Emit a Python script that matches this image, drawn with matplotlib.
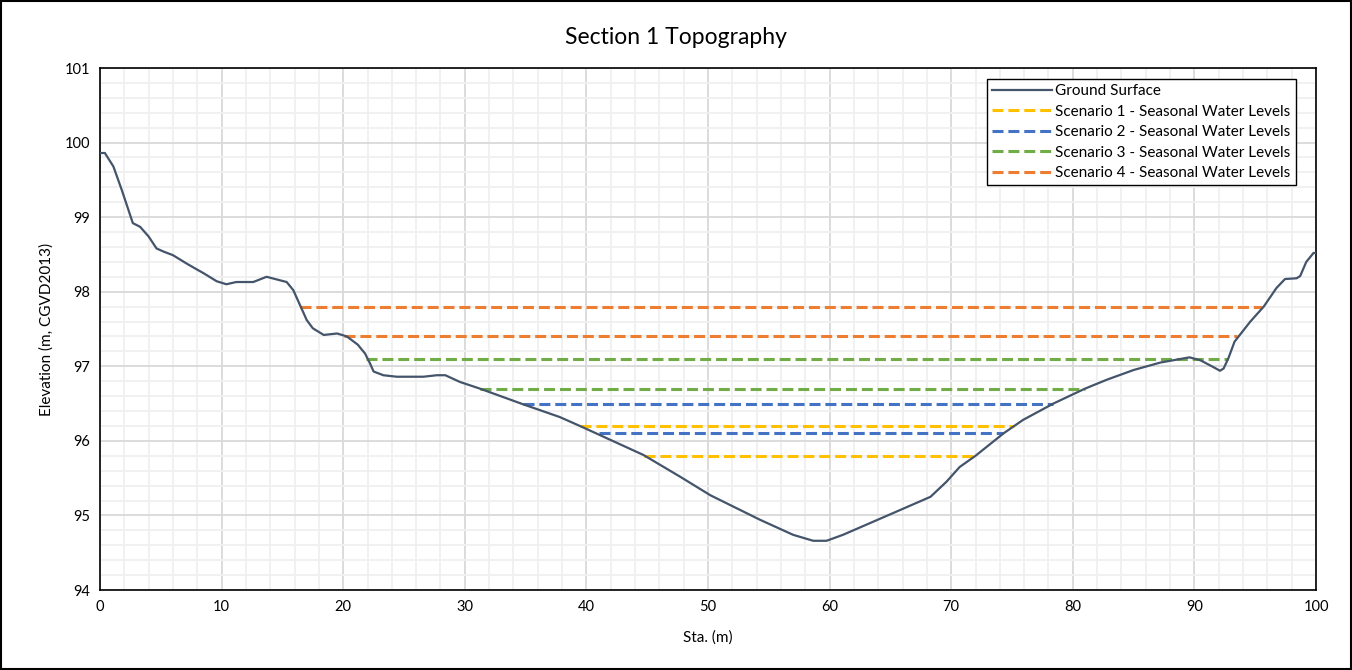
#!/usr/bin/env python3
"""Section 1 topography with seasonal water levels for four scenarios."""

import matplotlib
matplotlib.use("Agg")
import matplotlib.pyplot as plt
from matplotlib.patches import Rectangle
from matplotlib.ticker import MultipleLocator

# ground surface profile (station m, elevation m)
sta = [0, 0.4, 1.1, 1.8, 2.7, 3.3, 4.0, 4.65, 5.2, 6.0, 7.1, 7.95, 8.5,
       9.6, 10.4, 11.2, 12.6, 13.7, 15.35, 15.9, 16.45, 17.0, 17.5, 18.4,
       19.5, 20.3, 21.2, 21.8, 22.2, 22.5, 23.3, 24.4, 26.6, 27.7, 28.4,
       29.6, 31.25, 34.8, 37.8, 39.6, 44.7, 47.7, 50.2, 54.3, 57.0, 58.65,
       59.75, 61.1, 65.2, 68.3, 69.6, 70.7, 72.0, 74.3, 75.9, 78.4, 81.0,
       82.8, 85.0, 87.2, 89.6, 90.5, 91.55, 92.1, 92.4, 92.8, 93.3, 94.6,
       95.7, 96.75, 97.45, 98.4, 98.7, 99.2, 99.8, 100]
elev = [99.86, 99.86, 99.68, 99.36, 98.92, 98.87, 98.74, 98.58, 98.54,
        98.49, 98.38, 98.30, 98.25, 98.14, 98.10, 98.13, 98.13, 98.20,
        98.13, 98.02, 97.82, 97.62, 97.51, 97.42, 97.44, 97.40, 97.29,
        97.17, 97.04, 96.93, 96.88, 96.86, 96.86, 96.88, 96.88, 96.79,
        96.70, 96.49, 96.32, 96.19, 95.81, 95.52, 95.27, 94.94, 94.74,
        94.66, 94.66, 94.74, 95.03, 95.25, 95.45, 95.65, 95.80, 96.10,
        96.28, 96.50, 96.70, 96.82, 96.95, 97.05, 97.12, 97.08, 96.99,
        96.94, 96.97, 97.11, 97.33, 97.60, 97.80, 98.05, 98.17, 98.18,
        98.21, 98.40, 98.52, 98.52]

# seasonal water levels: two per scenario (level, start station, end station)
scenarios = ["Scenario 1 - Seasonal Water Levels",
             "Scenario 2 - Seasonal Water Levels",
             "Scenario 3 - Seasonal Water Levels",
             "Scenario 4 - Seasonal Water Levels"]
wl_level = [[96.2, 95.8], [96.5, 96.1], [97.1, 96.7], [97.8, 97.4]]
wl_start = [[39.5, 44.7], [34.8, 41.0], [21.9, 31.25], [16.45, 20.1]]
wl_end = [[75.2, 72.0], [78.4, 74.3], [92.8, 81.0], [95.6, 93.5]]
colors = ["#FFC000", "#4472C4", "#70AD47", "#ED7D31"]

plt.rcParams["font.family"] = ["Lato", "DejaVu Sans"]

fig = plt.figure(figsize=(13.52, 6.70), dpi=100)
ax = fig.add_axes([100 / 1352, 80 / 670, 1216 / 1352, 522 / 670])

ax.plot(sta, elev, color="#44546A", lw=1.6, label="Ground Surface", zorder=4)
for name, lv, x0, x1, c in zip(scenarios, wl_level, wl_start, wl_end, colors):
    for i in range(len(lv)):
        ax.plot([x0[i], x1[i]], [lv[i], lv[i]], color=c, lw=2.2,
                dashes=(3.6, 1.6), label=name if i == 0 else None, zorder=3)

ax.set_xlim(0, 100)
ax.set_ylim(94, 101)
ax.xaxis.set_major_locator(MultipleLocator(10))
ax.xaxis.set_minor_locator(MultipleLocator(2))
ax.yaxis.set_major_locator(MultipleLocator(1))
ax.yaxis.set_minor_locator(MultipleLocator(0.2))
ax.grid(which="major", color="#D9D9D9", lw=1.3)
ax.grid(which="minor", color="#F0F0F0", lw=1.3)
ax.set_axisbelow(True)
ax.tick_params(which="both", length=0, labelsize=10.5, pad=7)
for s in ax.spines.values():
    s.set_color("black")
    s.set_linewidth(1.2)

# title is centred on the whole figure, not the axes
fig.text(0.5, 1 - 37 / 670, "Section 1 Topography", fontsize=16.5,
         ha="center", va="center")
ax.set_xlabel("Sta. (m)", fontsize=11, labelpad=12)
ax.set_ylabel("Elevation (m, CGVD2013)", fontsize=11, labelpad=8)

leg = ax.legend(loc="upper right", bbox_to_anchor=(1 - 20 / 1216, 1 - 11 / 522),
                fontsize=11, handlelength=3.9, handletextpad=0.25,
                labelspacing=0.42, borderpad=0.35, borderaxespad=0,
                fancybox=False, framealpha=1, edgecolor="black")
leg.get_frame().set_linewidth(1.0)

fig.patches.append(Rectangle((0.001, 0.001), 0.998, 0.997,
                             transform=fig.transFigure, fill=False,
                             edgecolor="black", lw=1.5))

fig.savefig("out.png", dpi=100)
